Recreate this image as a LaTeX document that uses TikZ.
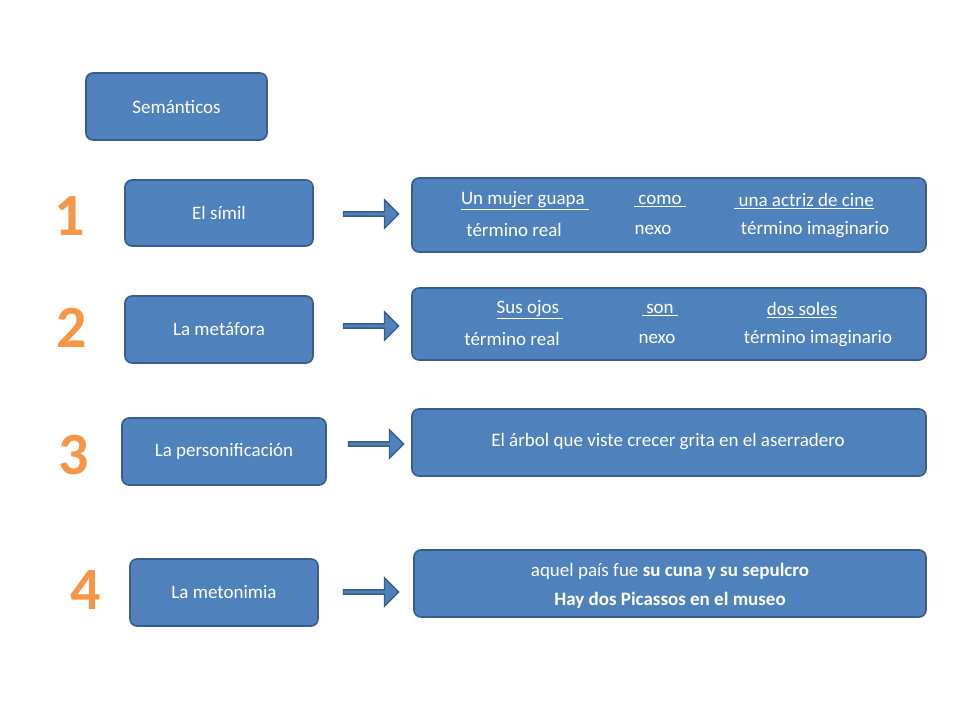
\documentclass[tikz,border=0pt]{standalone}
\usepackage{fontspec}
\setmainfont{Carlito}
\usetikzlibrary{shapes.arrows}
\definecolor{boxblue}{HTML}{4F81BD}
\definecolor{boxline}{HTML}{385D8A}
\definecolor{numorange}{HTML}{F79646}
\tikzset{
  card/.style={draw=boxline, fill=boxblue, line width=1.6pt, rounded corners=7pt, text=white},
  pointer/.style={single arrow, draw=boxline, fill=boxblue, line width=1.4pt, minimum width=28pt, minimum height=55pt, single arrow head extend=4pt, inner sep=0pt},
  txt/.style={text=white, font=\fontsize{19}{23}\selectfont, inner sep=0pt},
  digit/.style={text=numorange, font=\fontsize{60}{60}\selectfont\bfseries, draw=none}
}
\begin{document}
\begin{tikzpicture}[x=1pt,y=-1pt]
  \useasboundingbox (0,0) rectangle (960,720);

  % left column
  \draw[card] (86,73) rectangle (267,140);
  \node[txt] (sem) at (176.5,106.5) {Semánticos};
  \draw[card] (125,180) rectangle (313,246);
  \node[txt] (simil) at (219,213) {El símil};
  \draw[card] (125,296) rectangle (313,363);
  \node[txt] (meta) at (219,329.5) {La metáfora};
  \draw[card] (122,418) rectangle (326,485);
  \node[txt] (pers) at (224,451.5) {La personificación};
  \draw[card] (130,559) rectangle (318,626);
  \node[txt] (meto) at (224,592.5) {La metonimia};

  % numbers
  \node[digit] (n1) at (70,216) {1};
  \node[digit] (n2) at (72,328) {2};
  \node[digit] (n3) at (74,455) {3};
  \node[digit] (n4) at (86,590) {4};

  % arrows
  \node[pointer] (a1) at (370,214) {};
  \node[pointer] (a2) at (370,326) {};
  \node[pointer] (a3) at (375,444) {};
  \node[pointer] (a4) at (370,592) {};

  % right column
  \draw[card] (412,178) rectangle (926,252);
  \node[txt] (r1a) at (525,201) {\underline{Un mujer guapa\ }};
  \node[txt] (r1b) at (660,201) {\underline{\ como\ }};
  \node[txt] (r1c) at (804,201) {\underline{\ una actriz de cine}};
  \node[txt] (r1d) at (514,230) {término real};
  \node[txt] (r1e) at (653,230) {nexo};
  \node[txt] (r1f) at (815,230) {término imaginario};

  \draw[card] (412,288) rectangle (926,360);
  \node[txt] (r2a) at (530,310) {\underline{Sus ojos\ }};
  \node[txt] (r2b) at (660,310) {\underline{\ son\ }};
  \node[txt] (r2c) at (802,310) {\underline{dos soles}};
  \node[txt] (r2d) at (512,339) {término real};
  \node[txt] (r2e) at (657,339) {nexo};
  \node[txt] (r2f) at (818,339) {término imaginario};

  \draw[card] (412,409) rectangle (926,476);
  \node[txt] (r3) at (668,442) {El árbol que viste crecer grita en el aserradero};

  \draw[card] (414,550) rectangle (926,617);
  \node[txt] (r4a) at (670,571) {aquel país fue \textbf{su cuna y su sepulcro}};
  \node[txt] (r4b) at (670,600) {\textbf{Hay dos Picassos en el museo}};
\end{tikzpicture}
\end{document}
